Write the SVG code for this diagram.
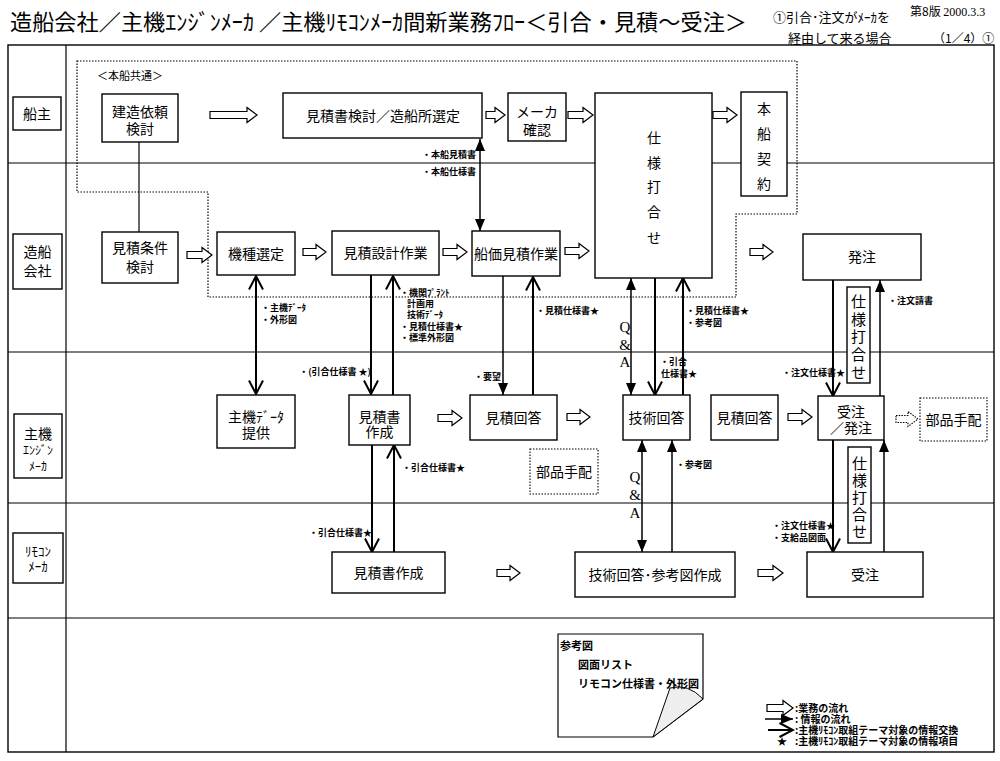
<svg xmlns="http://www.w3.org/2000/svg" width="1000" height="761" viewBox="0 0 1000 761">
<style>
text{font-family:"Noto Sans CJK JP","Liberation Sans",sans-serif;fill:#000}
.t{font-size:14px;text-anchor:middle}
.v{font-size:14px;text-anchor:middle}
.sv{font-size:15px;text-anchor:middle}
.s{font-size:9px;font-weight:bold}
.e{text-anchor:end}
.lg{font-size:11px;font-weight:bold}
.leg{font-size:10px;font-weight:bold}
.qa{font-family:"Liberation Serif",serif;font-size:15px;text-anchor:middle}
.box{fill:#fff;stroke:#000;stroke-width:1.4}
.dbox{fill:#fff;stroke:#000;stroke-width:1.1;stroke-dasharray:1.5 1.5}
.ha{fill:#fff;stroke:#000;stroke-width:1.2}
.had{fill:#fff;stroke:#000;stroke-width:1.1;stroke-dasharray:1.5 1.2}
.ln{stroke:#000;stroke-width:1.2;fill:none}
.info{stroke:#000;stroke-width:1.5;fill:none}
.ex{stroke:#000;stroke-width:2;fill:none}
.dot{stroke:#000;stroke-width:1.2;fill:none;stroke-dasharray:1.5 1.5}
</style>
<defs>
<marker id="fa" markerUnits="userSpaceOnUse" markerWidth="12" markerHeight="10" viewBox="0 0 12 10" refX="12" refY="5" orient="auto-start-reverse"><path d="M0,0 L12,5 L0,10 Z" fill="#000"/></marker>
<marker id="oa" markerUnits="userSpaceOnUse" markerWidth="16" markerHeight="16" viewBox="0 0 16 16" refX="14.5" refY="8" orient="auto-start-reverse"><path d="M1,1 L14.5,8 L1,15" fill="none" stroke="#000" stroke-width="2"/></marker>
</defs>

<!-- title -->
<g id="title">
<text x="10" y="30" font-size="22" textLength="737" lengthAdjust="spacingAndGlyphs">造船会社／主機ｴﾝｼﾞﾝﾒｰｶ ／主機ﾘﾓｺﾝﾒｰｶ間新業務ﾌﾛｰ＜引合・見積～受注＞</text>
<text x="773" y="22" font-size="13">①引合･注文がﾒｰｶを</text>
<text x="788" y="43" font-size="13">経由して来る場合</text>
<text x="910" y="16" font-size="12">第8版 <tspan font-family="Liberation Serif, serif">2000.3.3</tspan></text>
<text x="933" y="43" font-size="12">（1／4）①</text>
</g>

<!-- frame and lanes -->
<g id="frame">
<rect x="8" y="45" width="986" height="707" fill="none" stroke="#000" stroke-width="1.4"/>
<line class="ln" x1="66" y1="45" x2="66" y2="752"/>
<line class="ln" x1="8" y1="163" x2="994" y2="163"/>
<line class="ln" x1="8" y1="352" x2="994" y2="352"/>
<line class="ln" x1="8" y1="503" x2="994" y2="503"/>
<line class="ln" x1="8" y1="618" x2="994" y2="618"/>
<path class="dot" d="M77,61 H797 V214 H736 V297 H208 V192 H77 Z"/>
<text x="97" y="80" font-size="11">＜本船共通＞</text>
</g>

<!-- lane labels -->
<g id="lane-owner"><rect class="box" x="13" y="97" width="48" height="33"/><text class="t" x="37" y="119">船主</text></g>
<g id="lane-yard"><rect class="box" x="13" y="234" width="49" height="55"/><text class="t" x="37.5" y="257">造船</text><text class="t" x="37.5" y="276">会社</text></g>
<g id="lane-engine"><rect class="box" x="14" y="414" width="48" height="64"/><text class="t" x="38" y="439" font-size="15">主機</text><text x="38" y="455" font-size="12" text-anchor="middle">ｴﾝｼﾞﾝ</text><text x="38" y="471" font-size="12" text-anchor="middle">ﾒｰｶ</text></g>
<g id="lane-remocon"><rect class="box" x="13" y="533" width="50" height="50"/><text x="38" y="556" font-size="13" text-anchor="middle">ﾘﾓｺﾝ</text><text x="38" y="571" font-size="13" text-anchor="middle">ﾒｰｶ</text></g>

<!-- connectors -->
<g id="connectors">
<line class="ln" x1="139" y1="142" x2="139" y2="232"/>
<line class="info" x1="480" y1="139" x2="480" y2="231" marker-start="url(#fa)" marker-end="url(#fa)"/>
<line class="ex" x1="256" y1="276" x2="256" y2="394" marker-start="url(#oa)" marker-end="url(#oa)"/>
<line class="ex" x1="371" y1="275" x2="371" y2="394" marker-end="url(#oa)"/>
<line class="ex" x1="393" y1="395" x2="393" y2="276" marker-end="url(#oa)"/>
<line class="info" x1="503" y1="276" x2="503" y2="395" marker-end="url(#fa)"/>
<line class="ex" x1="533" y1="395" x2="533" y2="277" marker-end="url(#oa)"/>
<line class="info" x1="631" y1="278" x2="631" y2="395" marker-start="url(#fa)" marker-end="url(#fa)"/>
<line class="ex" x1="655" y1="278" x2="655" y2="395" marker-end="url(#oa)"/>
<line class="ex" x1="683" y1="395" x2="683" y2="278" marker-end="url(#oa)"/>
<line class="ex" x1="833" y1="280" x2="833" y2="396" marker-end="url(#oa)"/>
<line class="info" x1="880" y1="396" x2="880" y2="280" marker-end="url(#fa)"/>
<line class="ex" x1="372" y1="445" x2="372" y2="552" marker-end="url(#oa)"/>
<line class="ex" x1="394" y1="552" x2="394" y2="445" marker-end="url(#oa)"/>
<line class="info" x1="642" y1="440" x2="642" y2="552" marker-start="url(#fa)" marker-end="url(#fa)"/>
<line class="info" x1="672" y1="552" x2="672" y2="440" marker-end="url(#fa)"/>
<line class="ex" x1="833" y1="440" x2="833" y2="552" marker-end="url(#oa)"/>
<line class="info" x1="884" y1="552" x2="884" y2="440" marker-end="url(#fa)"/>

<path class="ha" d="M210,111.5 H247 V107.5 L257,115 L247,122.5 V118.5 H210 Z"/>
<path class="ha" d="M486,111.5 H495 V107.5 L505,115 L495,122.5 V118.5 H486 Z"/>
<path class="ha" d="M568,111.5 H583 V107.5 L593,115 L583,122.5 V118.5 H568 Z"/>
<path class="ha" d="M713,111.5 H727 V107.5 L737,115 L727,122.5 V118.5 H713 Z"/>
<path class="ha" d="M187,251.5 H202 V247.5 L212,255 L202,262.5 V258.5 H187 Z"/>
<path class="ha" d="M303,248.5 H316 V244.5 L326,252 L316,259.5 V255.5 H303 Z"/>
<path class="ha" d="M443,248.5 H457 V244.5 L467,252 L457,259.5 V255.5 H443 Z"/>
<path class="ha" d="M565,247.5 H579 V243.5 L589,251 L579,258.5 V254.5 H565 Z"/>
<path class="ha" d="M750,248.5 H763 V244.5 L773,252 L763,259.5 V255.5 H750 Z"/>
<path class="ha" d="M438,414.5 H452 V410.5 L462,418 L452,425.5 V421.5 H438 Z"/>
<path class="ha" d="M567,413.5 H580 V409.5 L590,417 L580,424.5 V420.5 H567 Z"/>
<path class="ha" d="M788,413.5 H802 V409.5 L812,417 L802,424.5 V420.5 H788 Z"/>
<path class="had" d="M896,415.5 H908 V411.5 L918,419 L908,426.5 V422.5 H896 Z"/>
<path class="ha" d="M497,569.5 H510 V565.5 L520,573 L510,580.5 V576.5 H497 Z"/>
<path class="ha" d="M758,569.5 H773 V565.5 L783,573 L773,580.5 V576.5 H758 Z"/>

<text class="s e" x="476" y="158">・本船見積書</text>
<text class="s e" x="476" y="175">・本船仕様書</text>
<text class="s" x="261" y="311">・主機ﾃﾞｰﾀ</text>
<text class="s" x="261" y="323">・外形図</text>
<text class="s" x="400" y="296">・機関ﾌﾟﾗﾝﾄ</text>
<text class="s" x="407" y="307">計画用</text>
<text class="s" x="407" y="318">技術ﾃﾞｰﾀ</text>
<text class="s" x="400" y="330">・見積仕様書★</text>
<text class="s" x="400" y="341">・標準外形図</text>
<text class="s e" x="371" y="375">・(引合仕様書 ★)</text>
<text class="s" x="474" y="380">・要望</text>
<text class="s" x="536" y="314">・見積仕様書★</text>
<text class="s" x="660" y="365">・引合</text>
<text class="s" x="661" y="377">仕様書★</text>
<text class="s" x="686" y="314">・見積仕様書★</text>
<text class="s" x="686" y="326">・参考図</text>
<text class="s" x="782" y="376">・注文仕様書★</text>
<text class="s" x="888" y="304">・注文請書</text>
<text class="s" x="309" y="536">・引合仕様書★</text>
<text class="s" x="402" y="471">・引合仕様書★</text>
<text class="s" x="676" y="468">・参考図</text>
<text class="s" x="772" y="529">・注文仕様書★</text>
<text class="s" x="772" y="541">・支給品図面</text>
<text class="qa" x="625" y="332">Q</text>
<text class="qa" x="625" y="350">&amp;</text>
<text class="qa" x="625" y="367">A</text>
<text class="qa" x="635" y="482">Q</text>
<text class="qa" x="635" y="500">&amp;</text>
<text class="qa" x="635" y="518">A</text>
</g>

<!-- nodes -->
<g id="n-kenzo"><rect class="box" x="102" y="94" width="76" height="48"/><text class="t" x="140" y="117">建造依頼</text><text class="t" x="140" y="134">検討</text></g>
<g id="n-mitsumorisho-kento"><rect class="box" x="283" y="93" width="199" height="45"/><text class="t" x="383" y="121">見積書検討／造船所選定</text></g>
<g id="n-maker-kakunin"><rect class="box" x="508" y="93" width="58" height="48"/><text class="t" x="537" y="117">メーカ</text><text class="t" x="537" y="135">確認</text></g>
<g id="n-shiyo-uchiawase"><rect class="box" x="595" y="93" width="117" height="185"/><text class="v" x="654" y="143">仕</text><text class="v" x="654" y="168">様</text><text class="v" x="654" y="192">打</text><text class="v" x="654" y="217">合</text><text class="v" x="654" y="243">せ</text></g>
<g id="n-honsen-keiyaku"><rect class="box" x="741" y="92" width="46" height="104"/><text class="v" x="764" y="114">本</text><text class="v" x="764" y="139">船</text><text class="v" x="764" y="164">契</text><text class="v" x="764" y="189">約</text></g>
<g id="n-mitsumori-joken"><rect class="box" x="102" y="232" width="76" height="51"/><text class="t" x="140" y="253">見積条件</text><text class="t" x="140" y="272">検討</text></g>
<g id="n-kishu-sentei"><rect class="box" x="217" y="232" width="78" height="43"/><text class="t" x="256" y="259">機種選定</text></g>
<g id="n-mitsumori-sekkei"><rect class="box" x="332" y="231" width="107" height="44"/><text class="t" x="385.5" y="258">見積設計作業</text></g>
<g id="n-senka-mitsumori"><rect class="box" x="472" y="231" width="88" height="45"/><text class="t" x="516" y="259">船価見積作業</text></g>
<g id="n-hatchu"><rect class="box" x="803" y="234" width="118" height="46"/><text class="t" x="862" y="262">発注</text></g>
<g id="n-shiyo-small1"><rect class="box" x="847" y="287" width="23" height="96"/><text class="sv" x="858.5" y="307">仕</text><text class="sv" x="858.5" y="325">様</text><text class="sv" x="858.5" y="342">打</text><text class="sv" x="858.5" y="360">合</text><text class="sv" x="858.5" y="378">せ</text></g>
<g id="n-shuki-data"><rect class="box" x="217" y="395" width="78" height="53"/><text class="t" x="256" y="422">主機ﾃﾞｰﾀ</text><text class="t" x="256" y="438">提供</text></g>
<g id="n-mitsumorisho-sakusei-e"><rect class="box" x="349" y="395" width="61" height="50"/><text class="t" x="379.5" y="422">見積書</text><text class="t" x="379.5" y="437">作成</text></g>
<g id="n-mitsumori-kaito1"><rect class="box" x="470" y="395" width="87" height="45"/><text class="t" x="513.5" y="423">見積回答</text></g>
<g id="n-buhin-tehai1"><rect class="dbox" x="530" y="449" width="68" height="45"/><text class="t" x="564" y="477">部品手配</text></g>
<g id="n-gijutsu-kaito"><rect class="box" x="623" y="395" width="67" height="45"/><text class="t" x="656.5" y="423">技術回答</text></g>
<g id="n-mitsumori-kaito2"><rect class="box" x="711" y="395" width="67" height="45"/><text class="t" x="744.5" y="423">見積回答</text></g>
<g id="n-juchu-hatchu"><rect class="box" x="818" y="396" width="66" height="44"/><text class="t" x="851" y="417">受注</text><text class="t" x="851" y="433">／発注</text></g>
<g id="n-buhin-tehai2"><rect class="dbox" x="920" y="398" width="67" height="43"/><text class="t" x="953.5" y="425">部品手配</text></g>
<g id="n-shiyo-small2"><rect class="box" x="848" y="447" width="23" height="96"/><text class="sv" x="859.5" y="469">仕</text><text class="sv" x="859.5" y="486">様</text><text class="sv" x="859.5" y="503">打</text><text class="sv" x="859.5" y="520">合</text><text class="sv" x="859.5" y="537">せ</text></g>
<g id="n-mitsumorisho-sakusei-r"><rect class="box" x="332" y="552" width="113" height="41"/><text class="t" x="388.5" y="578">見積書作成</text></g>
<g id="n-gijutsu-sankozu"><rect class="box" x="575" y="552" width="160" height="45"/><text class="t" x="655" y="580">技術回答･参考図作成</text></g>
<g id="n-juchu"><rect class="box" x="807" y="552" width="116" height="45"/><text class="t" x="865" y="580">受注</text></g>

<!-- note -->
<g id="note">
<path d="M558,634 H703 V699 L653,737 H558 Z" fill="#fff" stroke="#000" stroke-width="1.2"/>
<path d="M653,737 L670,688 Q688,683 703,699 Z" fill="#eee" stroke="#000" stroke-width="1"/>
<text class="lg" x="560" y="650">参考図</text>
<text class="lg" x="578" y="669">図面リスト</text>
<text class="lg" x="578" y="688">リモコン仕様書・外形図</text>
</g>

<!-- legend -->
<g id="legend">
<path class="ha" d="M767,704.5 H783 V700.5 L793,708 L783,715.5 V711.5 H767 Z"/>
<text class="leg" x="795" y="712">:業務の流れ</text>
<line class="info" x1="765" y1="719" x2="793" y2="719" marker-end="url(#fa)"/>
<text class="leg" x="795" y="723">: 情報の流れ</text>
<line class="ex" x1="768" y1="730" x2="793" y2="730" marker-end="url(#oa)"/>
<text class="leg" x="795" y="734">:主機ﾘﾓｺﾝ取組テーマ対象の情報交換</text>
<text class="leg" x="782" y="745" text-anchor="middle">★</text>
<text class="leg" x="795" y="745">:主機ﾘﾓｺﾝ取組テーマ対象の情報項目</text>
</g>
</svg>
